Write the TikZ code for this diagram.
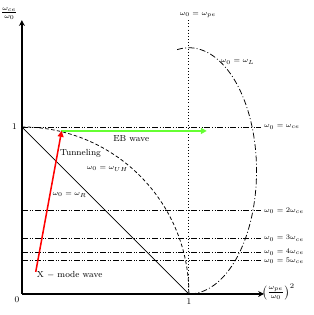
\documentclass[tikz,border=0pt]{standalone}
\usetikzlibrary{arrows.meta,calc}
\begin{document}
\begin{tikzpicture}[x=5cm,y=5cm,
  axis/.style={line width=1.4pt,-{Stealth[length=5pt,width=5pt]}},
  ddot/.style={line width=0.65pt,dash pattern=on 5pt off 1.5pt on 0.8pt off 1.5pt on 0.8pt off 1.5pt},
  ddash/.style={line width=0.65pt,dash pattern=on 3pt off 2pt},
  lcut/.style={line width=0.65pt,dash pattern=on 5pt off 2pt on 0.8pt off 2pt},
  lbl/.style={font=\fontsize{6.3}{7}\selectfont,inner sep=0.5pt},
  axl/.style={font=\fontsize{8}{9}\selectfont,inner sep=0.5pt},
  txt/.style={font=\fontsize{7.5}{9}\selectfont,inner sep=0.5pt},
  wave/.style={line width=1.3pt,-{Triangle[length=5pt,width=5pt]}}]
\definecolor{ebgreen}{RGB}{102,255,51}
\useasboundingbox (-0.131,-0.126) rectangle (1.744,1.760);
\coordinate (O) at (0,0);
\coordinate (ytop) at (0,1.64);
\coordinate (xend) at (1.45,0);
\coordinate (one) at (0,1);
\coordinate (xone) at (1,0);
\coordinate (pet) at (1,1.64);
% horizontal harmonic lines
\foreach \n/\y in {1/1,2/0.5,3/0.3333,4/0.25,5/0.2}{
  \coordinate (h\n a) at (0,\y);
  \coordinate (h\n b) at (1.43,\y);
  \draw[ddot] (h\n a) -- (h\n b);
}
\node[lbl,anchor=west] (l1) at (1.446,1) {$\omega_0=\omega_{ce}$};
\node[lbl,anchor=west] (l2) at (1.446,0.5) {$\omega_0=2\omega_{ce}$};
\node[lbl,anchor=west] (l3) at (1.446,0.3333) {$\omega_0=3\omega_{ce}$};
\node[lbl,anchor=west] (l4) at (1.446,0.25) {$\omega_0=4\omega_{ce}$};
\node[lbl,anchor=west] (l5) at (1.446,0.2) {$\omega_0=5\omega_{ce}$};
% plasma cutoff
\draw[dotted,line width=0.7pt] (pet) -- (xone);
\node[lbl] (lpe) at (1.054,1.671) {$\omega_0=\omega_{pe}$};
% R cutoff
\draw[line width=0.55pt] (one) -- (xone);
\node[lbl] (lR) at (0.286,0.593) {$\omega_0=\omega_R$};
% UH resonance
\draw[ddash] (one) arc[start angle=90,end angle=0,radius=1];
\node[lbl] (lUH) at (0.512,0.749) {$\omega_0=\omega_{UH}$};
% L cutoff
\coordinate (Ls) at ($(1,0.737)+(100:0.405 and 0.737)$);
\draw[lcut] (Ls) arc[start angle=100,end angle=-90,x radius=0.405,y radius=0.737];
\node[lbl] (lL) at (1.292,1.389) {$\omega_0=\omega_L$};
% axes
\draw[axis] (O) -- (ytop);
\draw[axis] (O) -- (xend);
\node[axl] (yl) at (-0.075,1.680) {$\frac{\omega_{ce}}{\omega_0}$};
\node[axl] (xl) at (1.535,0.012) {$\left(\frac{\omega_{pe}}{\omega_0}\right)^2$};
\node[txt] (z) at (-0.030,-0.036) {0};
\node[txt] (x1) at (1,-0.048) {1};
\node[txt] (y1) at (-0.045,1) {1};
% waves
\coordinate (xs) at (0.083,0.132);
\coordinate (xt) at (0.238,0.976);
\coordinate (es) at (0.232,0.976);
\coordinate (et) at (1.107,0.976);
\draw[wave,ebgreen] (es) -- (et);
\draw[wave,red] (xs) -- (xt);
\node[txt] (eb) at (0.655,0.928) {EB wave};
\node[txt] (tu) at (0.351,0.844) {Tunneling};
\node[txt] (xm) at (0.286,0.114) {X $-$ mode wave};
\end{tikzpicture}
\end{document}
